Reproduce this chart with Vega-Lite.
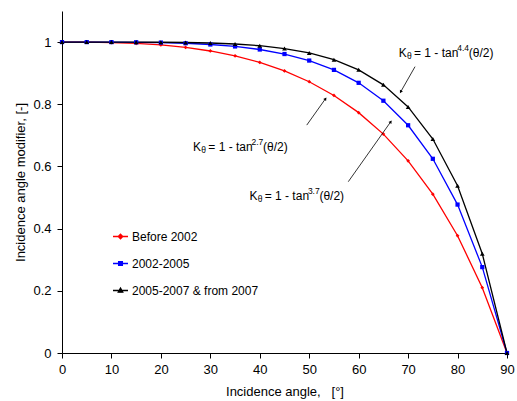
{
  "$schema": "https://vega.github.io/schema/vega-lite/v6.json",
  "width": 445,
  "height": 342,
  "autosize": "none",
  "padding": {"left": 62, "top": 11, "right": 10, "bottom": 48},
  "config": {
    "view": {"stroke": null},
    "font": "Liberation Sans",
    "axis": {"domainColor": "black", "tickColor": "black", "labelColor": "black", "titleColor": "black", "labelFont": "Liberation Sans", "titleFont": "Liberation Sans", "labelFontSize": 13, "titleFontSize": 13, "titleFontWeight": "normal", "grid": false, "tickSize": 5, "domainWidth": 1, "tickWidth": 1}
  },
  "datasets": {
    "curves": [
      {"theta": 0, "k": 1, "series": "Before 2002"},
      {"theta": 5, "k": 0.9998, "series": "Before 2002"},
      {"theta": 10, "k": 0.9986, "series": "Before 2002"},
      {"theta": 15, "k": 0.9958, "series": "Before 2002"},
      {"theta": 20, "k": 0.9908, "series": "Before 2002"},
      {"theta": 25, "k": 0.9829, "series": "Before 2002"},
      {"theta": 30, "k": 0.9714, "series": "Before 2002"},
      {"theta": 35, "k": 0.9557, "series": "Before 2002"},
      {"theta": 40, "k": 0.9347, "series": "Before 2002"},
      {"theta": 45, "k": 0.9074, "series": "Before 2002"},
      {"theta": 50, "k": 0.8725, "series": "Before 2002"},
      {"theta": 55, "k": 0.8284, "series": "Before 2002"},
      {"theta": 60, "k": 0.7731, "series": "Before 2002"},
      {"theta": 65, "k": 0.704, "series": "Before 2002"},
      {"theta": 70, "k": 0.618, "series": "Before 2002"},
      {"theta": 75, "k": 0.5108, "series": "Before 2002"},
      {"theta": 80, "k": 0.3772, "series": "Before 2002"},
      {"theta": 85, "k": 0.2102, "series": "Before 2002"},
      {"theta": 90, "k": 0, "series": "Before 2002"},
      {"theta": 0, "k": 1, "series": "2002-2005"},
      {"theta": 5, "k": 1, "series": "2002-2005"},
      {"theta": 10, "k": 0.9999, "series": "2002-2005"},
      {"theta": 15, "k": 0.9994, "series": "2002-2005"},
      {"theta": 20, "k": 0.9984, "series": "2002-2005"},
      {"theta": 25, "k": 0.9962, "series": "2002-2005"},
      {"theta": 30, "k": 0.9923, "series": "2002-2005"},
      {"theta": 35, "k": 0.986, "series": "2002-2005"},
      {"theta": 40, "k": 0.9762, "series": "2002-2005"},
      {"theta": 45, "k": 0.9616, "series": "2002-2005"},
      {"theta": 50, "k": 0.9406, "series": "2002-2005"},
      {"theta": 55, "k": 0.9106, "series": "2002-2005"},
      {"theta": 60, "k": 0.869, "series": "2002-2005"},
      {"theta": 65, "k": 0.8114, "series": "2002-2005"},
      {"theta": 70, "k": 0.7325, "series": "2002-2005"},
      {"theta": 75, "k": 0.6246, "series": "2002-2005"},
      {"theta": 80, "k": 0.4774, "series": "2002-2005"},
      {"theta": 85, "k": 0.2763, "series": "2002-2005"},
      {"theta": 90, "k": 0, "series": "2002-2005"},
      {"theta": 0, "k": 1, "series": "2005-2007 & from 2007"},
      {"theta": 5, "k": 1, "series": "2005-2007 & from 2007"},
      {"theta": 10, "k": 1, "series": "2005-2007 & from 2007"},
      {"theta": 15, "k": 0.9999, "series": "2005-2007 & from 2007"},
      {"theta": 20, "k": 0.9995, "series": "2005-2007 & from 2007"},
      {"theta": 25, "k": 0.9987, "series": "2005-2007 & from 2007"},
      {"theta": 30, "k": 0.997, "series": "2005-2007 & from 2007"},
      {"theta": 35, "k": 0.9938, "series": "2005-2007 & from 2007"},
      {"theta": 40, "k": 0.9883, "series": "2005-2007 & from 2007"},
      {"theta": 45, "k": 0.9793, "series": "2005-2007 & from 2007"},
      {"theta": 50, "k": 0.9652, "series": "2005-2007 & from 2007"},
      {"theta": 55, "k": 0.9434, "series": "2005-2007 & from 2007"},
      {"theta": 60, "k": 0.9108, "series": "2005-2007 & from 2007"},
      {"theta": 65, "k": 0.8625, "series": "2005-2007 & from 2007"},
      {"theta": 70, "k": 0.7915, "series": "2005-2007 & from 2007"},
      {"theta": 75, "k": 0.6881, "series": "2005-2007 & from 2007"},
      {"theta": 80, "k": 0.5378, "series": "2005-2007 & from 2007"},
      {"theta": 85, "k": 0.3192, "series": "2005-2007 & from 2007"},
      {"theta": 90, "k": 0, "series": "2005-2007 & from 2007"}
    ],
    "notes": [
      {"theta": 68.1, "k": 0.964, "exp": "4.4"},
      {"theta": 26.5, "k": 0.663, "exp": "2.7"},
      {"theta": 37.9, "k": 0.504, "exp": "3.7"}
    ],
    "arrows": [
      {"theta": 71.4, "k": 0.921, "theta2": 68.5, "k2": 0.84, "dir": 209},
      {"theta": 49.5, "k": 0.733, "theta2": 53.3, "k2": 0.818, "dir": 35},
      {"theta": 57.9, "k": 0.551, "theta2": 66.5, "k2": 0.744, "dir": 35}
    ]
  },
  "layer": [
    {
      "data": {"name": "curves"},
      "mark": {"type": "line", "strokeWidth": 1.3},
      "encoding": {
        "x": {"field": "theta", "type": "quantitative", "scale": {"domain": [0, 90], "nice": false},
          "axis": {"title": "Incidence angle, \u00a0 [°]", "values": [0, 10, 20, 30, 40, 50, 60, 70, 80, 90], "labelPadding": 5, "titlePadding": 9, "labelFlush": false}},
        "y": {"field": "k", "type": "quantitative", "scale": {"domain": [0, 1.1], "nice": false},
          "axis": {"title": "Incidence angle modifier, [-]", "values": [0, 0.2, 0.4, 0.6, 0.8, 1], "format": ".1~f", "labelPadding": 6, "titlePadding": 5, "labelFlush": false}},
        "color": {"field": "series", "type": "nominal",
          "scale": {"domain": ["Before 2002", "2002-2005", "2005-2007 & from 2007"], "range": ["#ff0000", "#0000ff", "#000000"]},
          "legend": {
            "orient": "none", "legendX": 50, "legendY": 217, "title": null, "padding": 0,
            "symbolSize": 225, "symbolStrokeWidth": 1.3, "labelFont": "Liberation Sans", "labelFontSize": 12, "labelColor": "black", "labelOffset": 3, "rowPadding": 12,
            "encode": {"symbols": {"update": {
              "shape": {"signal": "datum.value == 'Before 2002' ? 'M-1,0H1M0,-0.3L0.3,0L0,0.3L-0.3,0Z' : datum.value == '2002-2005' ? 'M-1,0H1M-0.25,-0.25H0.25V0.25H-0.25Z' : 'M-1,0H1M0,-0.33L0.3,0.22H-0.3Z'"},
              "fill": {"signal": "scale('color', datum.value)"},
              "stroke": {"signal": "scale('color', datum.value)"},
              "strokeWidth": {"value": 1.3},
              "size": {"value": 225},
              "opacity": {"value": 1}
            }}}
          }}
      }
    },
    {
      "data": {"name": "curves"},
      "transform": [{"filter": "datum.series == 'Before 2002'"}],
      "mark": {"type": "point", "filled": true, "opacity": 1, "shape": "diamond", "color": "#ff0000", "size": 14},
      "encoding": {"x": {"field": "theta", "type": "quantitative"}, "y": {"field": "k", "type": "quantitative"}}
    },
    {
      "data": {"name": "curves"},
      "transform": [{"filter": "datum.series == '2002-2005'"}],
      "mark": {"type": "point", "filled": true, "opacity": 1, "shape": "square", "color": "#0000ff", "size": 18},
      "encoding": {"x": {"field": "theta", "type": "quantitative"}, "y": {"field": "k", "type": "quantitative"}}
    },
    {
      "data": {"name": "curves"},
      "transform": [{"filter": "datum.series == '2005-2007 & from 2007'"}],
      "mark": {"type": "point", "filled": true, "opacity": 1, "shape": "triangle-up", "color": "#000000", "size": 22},
      "encoding": {"x": {"field": "theta", "type": "quantitative"}, "y": {"field": "k", "type": "quantitative"}}
    },
    {
      "data": {"name": "arrows"},
      "mark": {"type": "rule", "color": "black", "strokeWidth": 0.8},
      "encoding": {
        "x": {"field": "theta", "type": "quantitative"},
        "y": {"field": "k", "type": "quantitative"},
        "x2": {"field": "theta2"},
        "y2": {"field": "k2"}
      }
    },
    {
      "data": {"name": "arrows"},
      "mark": {"type": "point", "shape": "triangle-up", "filled": true, "color": "black", "opacity": 1, "size": 12},
      "encoding": {
        "x": {"field": "theta2", "type": "quantitative"},
        "y": {"field": "k2", "type": "quantitative"},
        "angle": {"field": "dir", "type": "quantitative", "scale": null}
      }
    },
    {
      "data": {"name": "notes"},
      "mark": {"type": "text", "align": "left", "baseline": "middle", "fontSize": 12, "color": "black", "text": "K"},
      "encoding": {"x": {"field": "theta", "type": "quantitative"}, "y": {"field": "k", "type": "quantitative"}}
    },
    {
      "data": {"name": "notes"},
      "mark": {"type": "text", "align": "left", "baseline": "middle", "fontSize": 8.5, "color": "black", "text": "θ", "dx": 8.3, "dy": 3},
      "encoding": {"x": {"field": "theta", "type": "quantitative"}, "y": {"field": "k", "type": "quantitative"}}
    },
    {
      "data": {"name": "notes"},
      "mark": {"type": "text", "align": "left", "baseline": "middle", "fontSize": 12, "color": "black", "text": "= 1 - tan", "dx": 15.3},
      "encoding": {"x": {"field": "theta", "type": "quantitative"}, "y": {"field": "k", "type": "quantitative"}}
    },
    {
      "data": {"name": "notes"},
      "mark": {"type": "text", "align": "left", "baseline": "middle", "fontSize": 8.5, "color": "black", "dx": 58.5, "dy": -5},
      "encoding": {"x": {"field": "theta", "type": "quantitative"}, "y": {"field": "k", "type": "quantitative"}, "text": {"field": "exp"}}
    },
    {
      "data": {"name": "notes"},
      "mark": {"type": "text", "align": "left", "baseline": "middle", "fontSize": 12, "color": "black", "text": "(θ/2)", "dx": 70},
      "encoding": {"x": {"field": "theta", "type": "quantitative"}, "y": {"field": "k", "type": "quantitative"}}
    }
  ]
}
